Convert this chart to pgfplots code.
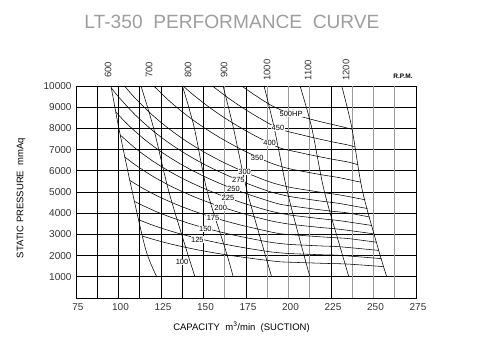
\documentclass[border=0pt]{standalone}
\usepackage{pgfplots}
\pgfplotsset{compat=1.18}
\usepackage{fontspec}
\setmainfont{Liberation Sans}
\usepackage{graphicx}
\begin{document}
\begin{tikzpicture}[x=1pt,y=1pt]
\useasboundingbox (0,0) rectangle (492,354);
\node[text=black!38] at (232,332) {\resizebox{295pt}{!}{LT-350\ \ PERFORMANCE\ \ CURVE}};
\begin{axis}[at={(76pt,56pt)}, anchor=south west,
  scale only axis, width=340pt, height=212pt,
  xmin=75, xmax=275, ymin=0, ymax=10000,
  clip=false, scaled y ticks=false, scaled x ticks=false,
  xtick={75,87.5,100,112.5,125,137.5,150,175,225,275},
  xticklabels={75,,100,,125,,150,175,225,275},
  extra x ticks={162.5,187.5,200,212.5,237.5,250,262.5},
  extra x tick labels={,,200,,,250,},
  extra x tick style={major grid style={black!40, line width=0.9pt}},
  ytick={0,1000,...,10000},
  yticklabels={,1000,2000,3000,4000,5000,6000,7000,8000,9000,10000},
  grid=major, major grid style={black, line width=0.8pt},
  axis line style={black, line width=0.8pt},
  major tick length=0pt,
  tick label style={font=\fontsize{10}{12}\selectfont, text=black!80},
  x tick label style={xshift=2pt, yshift=-2pt},
  y tick label style={xshift=-1pt},
  crv/.style={black, line width=0.55pt, mark=none, smooth},
]
% RPM curves (600 ... 1200)
\addplot[crv] coordinates {(95.6,10000)(100.1,8054)(107.9,5087)(116.1,2261)(122.5,1000)};
\addplot[crv] coordinates {(113.2,10000)(120.5,8054)(129.4,5087)(140.0,2261)(145.0,1000)};
\addplot[crv] coordinates {(137.6,10000)(144.5,8054)(152.0,5087)(163.0,2261)(167.5,1000)};
\addplot[crv] coordinates {(161.5,10000)(167.5,8054)(175.5,5087)(185.5,2261)(190.1,1000)};
\addplot[crv] coordinates {(185.6,10000)(191.5,8054)(199.1,5087)(208.3,2261)(212.6,1000)};
\addplot[crv] coordinates {(206.8,10000)(213.6,8054)(220.9,5087)(230.9,2261)(235.5,1000)};
\addplot[crv] coordinates {(231.3,10000)(237.2,8054)(243.4,5087)(253.0,2261)(257.8,1000)};
% HP curves
% 500
\addplot[crv] coordinates {(172.5,10000)(180,9583)(190,9079)(200,8725)(210,8500)(220,8293)(230,8107)(237.4,7960)};
% 450
\addplot[crv] coordinates {(155.3,10000)(165,9409)(175,8871)(185,8392)(195,7962)(205,7749)(215,7556)(225,7378)(235,7217)(239.2,7120)};
% 400
\addplot[crv] coordinates {(138,10000)(145,9517)(155,8903)(165,8364)(175,7886)(185,7459)(195,7077)(205,6888)(215,6716)(225,6558)(235,6415)(240.9,6285)};
% 350
\addplot[crv] coordinates {(120.8,10000)(130,9288)(140,8625)(150,8050)(160,7547)(170,7103)(180,6708)(190,6355)(200,6107)(210,5950)(220,5805)(230,5675)(242.6,5460)};
% 300
\addplot[crv] coordinates {(103.5,10000)(110,9409)(120,8625)(130,7962)(140,7393)(150,6900)(160,6469)(170,6088)(180,5750)(190,5447)(200,5235)(210,5100)(220,4976)(230,4864)(245.0,4635)};
% 275
\addplot[crv] coordinates {(95.8,9907)(100,9488)(110,8625)(120,7906)(130,7298)(140,6777)(150,6325)(160,5930)(170,5581)(180,5271)(190,4993)(200,4799)(210,4675)(220,4561)(230,4459)(246.4,4220)};
% 250
\addplot[crv] coordinates {(98.4,8780)(105,8214)(115,7500)(125,6900)(135,6389)(145,5948)(155,5565)(165,5227)(175,4929)(185,4662)(195,4423)(205,4305)(215,4198)(225,4099)(235,4010)(247.7,3820)};
% 225
\addplot[crv] coordinates {(101.0,7690)(110,7057)(120,6469)(130,5971)(140,5545)(150,5175)(160,4852)(170,4566)(180,4313)(190,4086)(200,3926)(210,3825)(220,3732)(230,3648)(249.1,3420)};
% 200
\addplot[crv] coordinates {(103.6,6660)(110,6273)(120,5750)(130,5308)(140,4929)(150,4600)(160,4313)(170,4059)(180,3833)(190,3632)(200,3490)(210,3400)(220,3317)(230,3243)(250.4,3025)};
% 175
\addplot[crv] coordinates {(106.6,5550)(115,5143)(125,4732)(135,4381)(145,4079)(155,3816)(165,3585)(175,3380)(185,3197)(195,3033)(205,2967)(215,2908)(225,2854)(235,2805)(251.7,2632)};
% 150
\addplot[crv] coordinates {(109.4,4555)(120,4150)(130,3831)(140,3557)(150,3320)(160,3113)(170,2929)(180,2767)(190,2621)(200,2531)(210,2490)(220,2452)(230,2418)(253.1,2245)};
% 125
\addplot[crv] coordinates {(111.9,3690)(120,3438)(130,3173)(140,2946)(150,2750)(160,2578)(170,2426)(180,2292)(190,2171)(200,2099)(210,2067)(220,2039)(230,2013)(254.6,1858)};
% 100
\addplot[crv] coordinates {(114.2,2915)(125,2664)(135,2467)(145,2297)(155,2148)(165,2018)(175,1903)(185,1800)(195,1708)(205,1677)(215,1650)(225,1624)(235,1601)(256.1,1478)};
% HP labels
\begin{scope}[every node/.style={fill=white, inner sep=0.4pt, font=\fontsize{7.5}{8}\selectfont}]
\node at (axis cs:201.5,8700) {500HP};
\node at (axis cs:193.8,8000) {450};
\node at (axis cs:188.9,7300) {400};
\node at (axis cs:181.6,6600) {350};
\node at (axis cs:174.2,5960) {300};
\node at (axis cs:170.5,5570) {275};
\node at (axis cs:167.6,5160) {250};
\node at (axis cs:164.4,4715) {225};
\node at (axis cs:160.1,4270) {200};
\node at (axis cs:155.6,3785) {175};
\node at (axis cs:151.1,3270) {150};
\node at (axis cs:146.4,2760) {125};
\node at (axis cs:137.4,1696) {100};
\end{scope}
\end{axis}
% top RPM labels
\begin{scope}[every node/.style={rotate=90, font=\fontsize{9.5}{11}\selectfont, text=black!80}]
\node at (108,284) {600};
\node at (149,284) {700};
\node at (188,284) {800};
\node at (224,284) {900};
\node at (267,284) {1000};
\node at (308,284) {1100};
\node at (346,284) {1200};
\end{scope}
\node[font=\bfseries\fontsize{6.5}{7}\selectfont] at (403,278) {R.P.M.};
\node[rotate=90, font=\fontsize{9.5}{11}\selectfont] at (21,156) {STATIC PRESSURE\ \ mmAq};
\node[font=\fontsize{9.5}{11}\selectfont] at (241.5,27) {CAPACITY\ \ m\textsuperscript{3}/min\ \ (SUCTION)};
\end{tikzpicture}
\end{document}
